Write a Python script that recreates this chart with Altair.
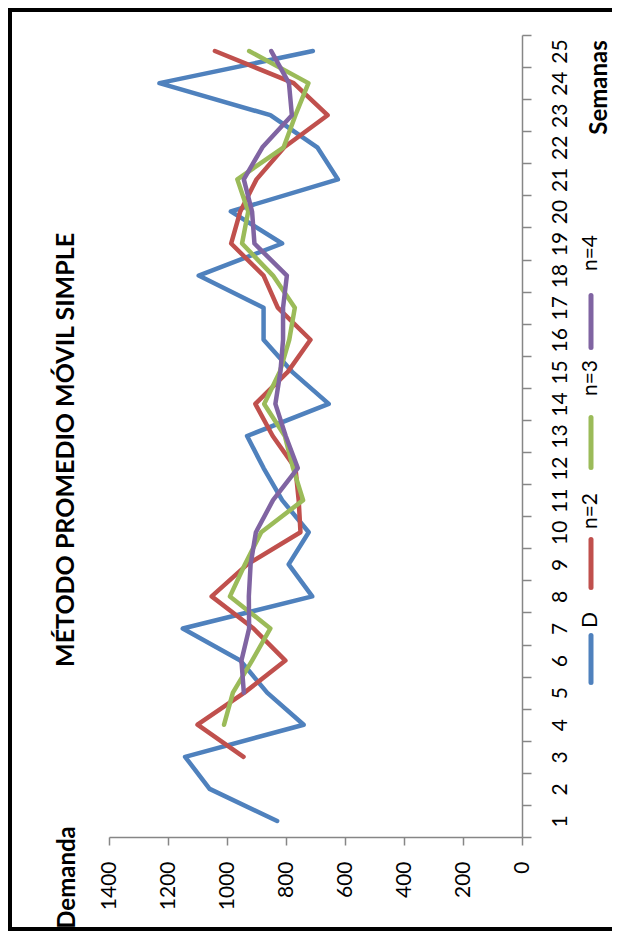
import altair as alt
import pandas as pd

# ---- data ----
weeks = list(range(1, 26))
demand = [830, 1059, 1142, 740, 864, 955, 1150, 711, 791, 723, 813, 876, 932,
          655, 779, 876, 876, 1096, 813, 987, 624, 694, 853, 1229, 709]
ma2 = [944, 1100, 941, 802, 910, 1052, 931, 751, 757, 768, 845, 904, 794,
       717, 828, 876, 986, 955, 900, 806, 659, 774, 1041]          # weeks 3-25
ma3 = [1010, 980, 915, 853, 990, 939, 884, 742, 776, 804, 874, 821, 789,
       770, 844, 949, 928, 965, 808, 768, 724, 925]                # weeks 4-25
ma4 = [943, 951, 925, 926, 920, 902, 844, 760, 801, 836, 819, 810, 810,
       797, 907, 915, 943, 880, 780, 790, 850]                     # weeks 5-25
series_names = ["D", "n=2", "n=3", "n=4"]
series_colors = ["#4F81BD", "#C0504D", "#9BBB59", "#8064A2"]
demand_ticks = [0, 200, 400, 600, 800, 1000, 1200, 1400]
title_text = "MÉTODO PROMEDIO MÓVIL SIMPLE"

rows = []
for name, vals in zip(series_names, [demand, ma2, ma3, ma4]):
    start = 26 - len(vals)
    for i, v in enumerate(vals):
        rows.append({"series": name, "week": start + i, "value": v})
df = pd.DataFrame(rows)

W, H = 413, 802
FONT = "Lato"
AXIS_GRAY = "#868686"

lines = alt.Chart(df).mark_line(
    strokeWidth=4.5, strokeCap="round", strokeJoin="round"
).encode(
    x=alt.X("value:Q",
            scale=alt.Scale(domain=[0, 1400], reverse=True, nice=False),
            axis=alt.Axis(values=demand_ticks, format="d", title="Demanda", grid=False,
                          titleX=-42, titleY=40, titleAngle=270,
                          titleAlign="center", titleBaseline="middle",
                          titleFont=FONT, titleFontSize=24, titleFontWeight="bold",
                          titleColor="black",
                          labelAngle=270, labelAlign="right", labelBaseline="middle",
                          labelPadding=16, tickSize=8, labelFlush=False,
                          labelOverlap=False, labelFont=FONT, labelFontSize=21,
                          labelColor="black", domainColor=AXIS_GRAY,
                          tickColor=AXIS_GRAY, domainWidth=1.5, tickWidth=1.5)),
    y=alt.Y("week:Q",
            scale=alt.Scale(domain=[0.5, 25.5], nice=False, zero=False),
            axis=alt.Axis(orient="right", title="Semanas", grid=False,
                          values=[w - 0.5 for w in weeks] + [25.5],
                          labelExpr="datum.value < 25 ? format(datum.value + 0.5, 'd') : ''",
                          labelOffset=-16, labelAngle=270, labelAlign="center",
                          labelBaseline="top", labelPadding=18, tickSize=9,
                          labelFlush=False, labelOverlap=False,
                          labelFont=FONT, labelFontSize=21, labelColor="black",
                          titleX=77, titleY=52, titleAngle=270,
                          titleAlign="center", titleBaseline="middle",
                          titleFont=FONT, titleFontSize=24, titleFontWeight="bold",
                          titleColor="black",
                          domainColor=AXIS_GRAY, tickColor=AXIS_GRAY,
                          domainWidth=1.5, tickWidth=1.5)),
    color=alt.Color("series:N",
                    scale=alt.Scale(domain=series_names, range=series_colors),
                    legend=None),
    order=alt.Order("week:Q"),
)

one = pd.DataFrame({"a": [0]})

# manual rotated legend (layout positions in pixels)
legend_layout = [(600.5, 647.5, 585), (504.5, 552.5, 476),
                 (382.5, 432.5, 343), (260.5, 312.5, 218)]
legend_layers = []
for name, color, (y1, y2, ty) in zip(series_names, series_colors, legend_layout):
    legend_layers.append(
        alt.Chart(one).mark_rule(color=color, strokeWidth=5, strokeCap="round")
        .encode(x=alt.value(482), y=alt.value(y1), y2=alt.value(y2)))
    legend_layers.append(
        alt.Chart(pd.DataFrame({"s": [name]})).mark_text(
            angle=270, font=FONT, fontSize=21, align="center",
            baseline="middle", color="black")
        .encode(x=alt.value(482), y=alt.value(ty), text="s:N"))

title = alt.Chart(pd.DataFrame({"t": [title_text]})).mark_text(
    angle=270, font=FONT, fontSize=25, fontWeight="bold", align="center",
    baseline="middle", color="black"
).encode(x=alt.value(-43.5), y=alt.value(415), text="t:N")

# outer chart-area frame (continues past the right edge, as in the reference)
frame = alt.Chart(one).mark_rect(
    fill=None, filled=False, stroke="black", strokeWidth=4
).encode(x=alt.value(-99), x2=alt.value(560), y=alt.value(-25), y2=alt.value(894))

chart = alt.layer(lines, *legend_layers, title, frame).properties(
    width=W, height=H,
    autosize=alt.AutoSizeParams(type="none"),
    padding={"left": 101, "top": 27, "right": 90, "bottom": 95},
    background="white",
).configure_view(stroke=None)

chart.save("out.html", embed_options={"renderer": "svg", "actions": False})
